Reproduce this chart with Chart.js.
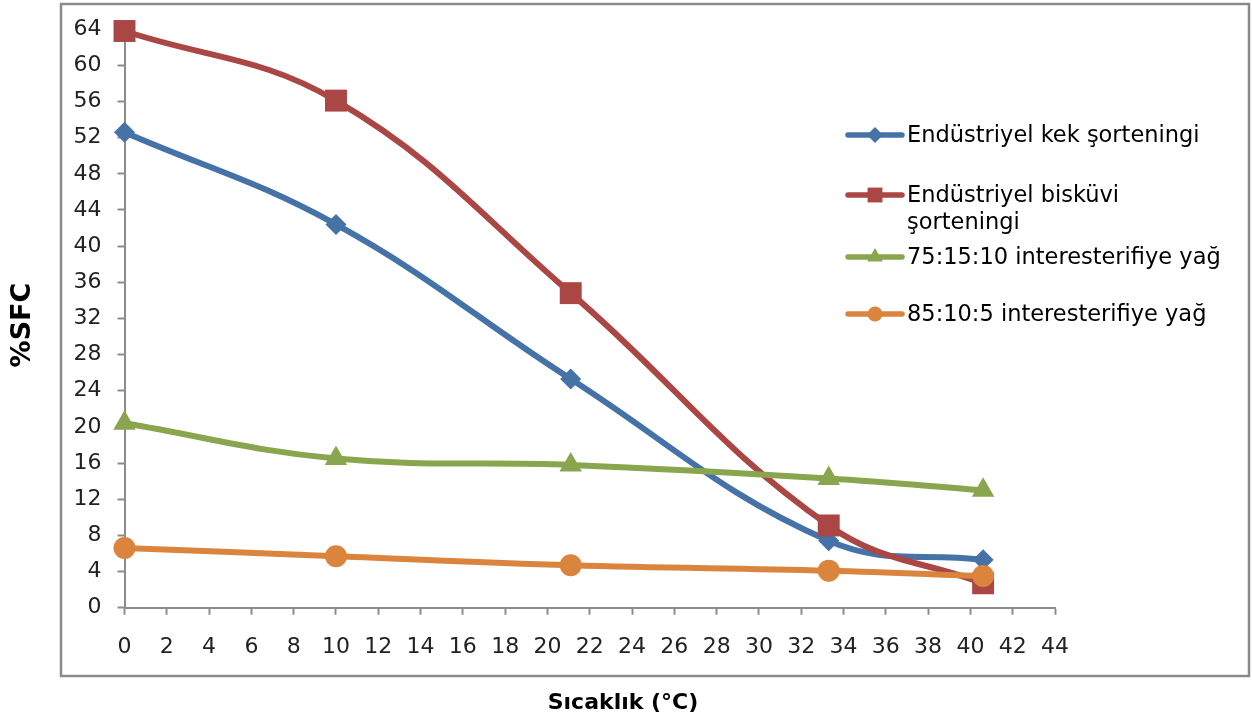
<!DOCTYPE html>
<html>
<head>
<meta charset="utf-8">
<script src="https://cdn.jsdelivr.net/npm/chart.js@4/dist/chart.umd.min.js"></script>
<style>
  html, body { margin: 0; padding: 0; background: #ffffff; }
  canvas { display: block; }
</style>
</head>
<body>
<canvas id="sfc" width="1252" height="722"></canvas>
<script>
// Measurement temperatures (°C)
const temperatures = [0, 10, 21.1, 33.3, 40.6];

// Solid fat content (%) of each fat at the temperatures above
const kekSortening     = [52.6, 42.4, 25.3, 7.4, 5.3];
const biskuviSortening = [63.8, 56.1, 34.8, 9.1, 2.7];
const yag751510        = [20.4, 16.5, 15.8, 14.3, 13.0];
const yag85105         = [6.6, 5.7, 4.7, 4.1, 3.5];

// Series names, as shown in the key (line breaks included)
const seriesNames = [
  ['Endüstriyel kek şorteningi'],
  ['Endüstriyel bisküvi', 'şorteningi'],
  ['75:15:10 interesterifiye yağ'],
  ['85:10:5 interesterifiye yağ']
];

const xTitle = 'Sıcaklık (°C)';
const yTitle = '%SFC';

const colors = ['#4572A7', '#AA4643', '#89A54E', '#DB843D'];
const markers = [
  { style: 'rectRot', radius: 10.5, legendRadius: 8 },
  { style: 'rect', radius: 15.5, legendRadius: 10.5 },
  { style: 'triangle', radius: 13, legendRadius: 9 },
  { style: 'circle', radius: 11, legendRadius: 7.5 }
];

function toPoints(values) {
  return temperatures.map((t, i) => ({ x: t, y: values[i] }));
}

const seriesValues = [kekSortening, biskuviSortening, yag751510, yag85105];

const datasets = seriesValues.map((vals, i) => ({
  label: seriesNames[i].join(' '),
  data: toPoints(vals),
  showLine: true,
  tension: 0.4,
  borderColor: colors[i],
  backgroundColor: colors[i],
  borderWidth: 6,
  pointStyle: markers[i].style,
  pointRadius: markers[i].radius,
  pointBorderWidth: 0,
  pointBackgroundColor: colors[i],
  pointBorderColor: colors[i],
  clip: false,
  order: 4 - i
}));

const FONT = "'DejaVu Sans', sans-serif";

// Outer frame, axis titles and the series key
const decorations = {
  id: 'decorations',
  afterDraw(chart) {
    const ctx = chart.ctx;
    ctx.save();

    // frame around the chart
    ctx.strokeStyle = '#8a8a8a';
    ctx.lineWidth = 2.5;
    ctx.strokeRect(61, 4, 1188, 672);

    // axis titles
    ctx.fillStyle = '#000000';
    ctx.font = 'bold 22px ' + FONT;
    ctx.textAlign = 'center';
    ctx.textBaseline = 'middle';
    ctx.fillText(xTitle, 623, 703);

    ctx.save();
    ctx.translate(23, 325);
    ctx.rotate(-Math.PI / 2);
    ctx.font = 'bold 27px ' + FONT;
    ctx.fillText(yTitle, 0, 0);
    ctx.restore();

    // key
    const rows = [135, 195, 257, 314];
    const lineStart = 848, lineEnd = 902, textX = 907;
    ctx.font = '22.5px ' + FONT;
    ctx.textAlign = 'left';
    ctx.textBaseline = 'middle';
    rows.forEach((y, i) => {
      ctx.strokeStyle = colors[i];
      ctx.lineWidth = 5.5;
      ctx.lineCap = 'round';
      ctx.beginPath();
      ctx.moveTo(lineStart, y);
      ctx.lineTo(lineEnd, y);
      ctx.stroke();
      ctx.fillStyle = colors[i];
      Chart.helpers.drawPoint(ctx, {
        pointStyle: markers[i].style,
        radius: markers[i].legendRadius,
        rotation: 0,
        borderWidth: 0
      }, (lineStart + lineEnd) / 2, y);
      ctx.fillStyle = '#000000';
      seriesNames[i].forEach((line, j) => {
        ctx.fillText(line, textX, y + 1 + j * 27);
      });
    });
    ctx.restore();
  }
};

const tickFont = { family: FONT, size: 22 };
const axisGrey = '#8c8c8c';

new Chart(document.getElementById('sfc'), {
  type: 'scatter',
  data: { datasets },
  options: {
    responsive: false,
    animation: false,
    events: [],
    layout: { padding: { left: 0, right: 197, top: 28.3, bottom: 0 } },
    scales: {
      x: {
        type: 'linear',
        min: 0,
        max: 44,
        ticks: { stepSize: 2, font: tickFont, color: '#222222', padding: 19 },
        grid: { drawOnChartArea: false, drawTicks: true, tickLength: 7, tickColor: axisGrey, tickWidth: 2 },
        border: { display: true, color: axisGrey, width: 2 },
        afterFit(scale) { scale.height = 722 - 607.7; }
      },
      y: {
        type: 'linear',
        min: 0,
        max: 64,
        ticks: { stepSize: 4, font: tickFont, color: '#222222', padding: 16 },
        grid: { drawOnChartArea: false, drawTicks: true, tickLength: 7, tickColor: axisGrey, tickWidth: 2 },
        border: { display: true, color: axisGrey, width: 2 },
        afterFit(scale) { scale.width = 124.5; }
      }
    },
    plugins: {
      legend: { display: false },
      tooltip: { enabled: false }
    }
  },
  plugins: [decorations]
});
</script>
</body>
</html>
